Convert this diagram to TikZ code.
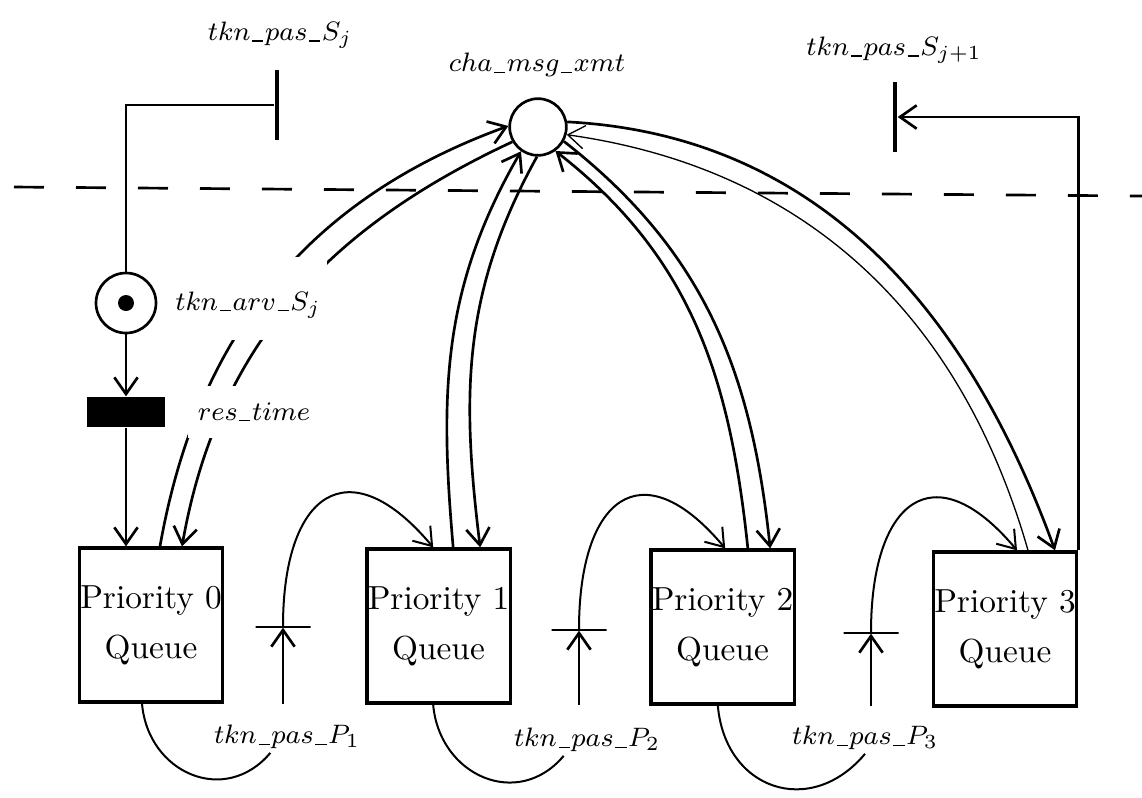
\documentclass[tikz,border=0pt]{standalone}
\usepackage{amsmath}
\usepackage{tikz}
\usetikzlibrary{arrows.meta, calc}
\newcommand{\usc}{\kern0.06em\rule[-0.05em]{0.42em}{0.45pt}\kern0.06em}
\tikzset{
  queue/.style={draw, line width=1pt, minimum width=43pt, minimum height=46.2pt,
                inner sep=0pt, align=center},
  place/.style={circle, draw, line width=0.8pt, minimum size=#1, inner sep=0pt},
  place/.default=18pt,
  token/.style={circle, fill=black, minimum size=4.8pt, inner sep=0pt},
  sbar/.style={fill=black, minimum width=1.2pt, minimum height=21pt, inner sep=0pt},
  pbar/.style={draw, line width=0.4pt, minimum width=16.5pt, minimum height=0pt,
               inner sep=0pt},
  tbox/.style={fill=black, minimum width=23.4pt, minimum height=9pt, inner sep=0pt},
  conn/.style={line width=0.8pt},
  arrow/.style={-{Straight Barb[length=5pt,width=7pt]}, line width=0.8pt},
  parrow/.style={-{Straight Barb[length=5pt,width=7pt]}, line width=0.6pt},
  lbl/.style={font=\footnotesize, inner sep=1pt},
  cut/.style={line width=0.8pt, dash pattern=on 9pt off 9.6pt},
}

\begin{document}
\begin{tikzpicture}[x=30pt, y=30pt]
  \useasboundingbox (0,0) rectangle (11.42,-7.97);

  % Queues
  \node[queue] (q0) at (1.51,-6.25) {Priority 0\\[3pt]Queue};
  \node[queue] (q1) at (4.385,-6.26) {Priority 1\\[3pt]Queue};
  \node[queue] (q2) at (7.225,-6.27) {Priority 2\\[3pt]Queue};
  \node[queue] (q3) at (10.05,-6.29) {Priority 3\\[3pt]Queue};

  % Places and transitions
  \node[place] (parv) at (1.26,-3.03) {};
  \node[token] (tok) at (parv) {};
  \node[tbox] (tres) at (1.26,-4.12) {};
  \node[place=17pt] (cmx) at (5.38,-1.27) {};
  \node[sbar] (tSj) at (2.77,-1.05) {};
  \node[sbar] (tSj1) at (8.95,-1.17) {};
  \node[pbar] (t1) at (2.83,-6.27) {};
  \node[pbar] (t2) at (5.79,-6.30) {};
  \node[pbar] (t3) at (8.71,-6.33) {};

  % Station boundary
  \draw[cut] (0.14,-1.87) -- (11.42,-1.96);

  % Token arrival
  \draw[conn] (parv) |- (tSj);
  \draw[arrow] (parv) -- (tres);
  \draw[arrow] (tres) -- (tres |- q0.north);
  \draw[arrow] (q3.north east) |- (tSj1);

  % Channel arcs
  \draw[arrow] ([xshift=2.7pt]q0.north) to[out=80,in=200] (cmx.178);
  \draw[arrow] (cmx.210) to[out=205,in=80] ([xshift=9.3pt]q0.north);
  \draw[arrow] ([xshift=4.4pt]q1.north) to[out=95,in=240] (cmx.235);
  \draw[arrow] (cmx.268) to[out=241,in=97] ([xshift=12.5pt]q1.north);
  \draw[arrow] ([xshift=7.6pt]q2.north) to[out=96,in=322] (cmx.306);
  \draw[arrow] (cmx.331) to[out=-38,in=96] ([xshift=14.3pt]q2.north);
  \draw[arrow] (cmx.10) to[out=-3,in=110] ([xshift=15pt]q3.north);
  \draw[arrow, line width=0.4pt] ([xshift=6.9pt]q3.north) to[out=106,in=-8]
    (cmx.-15);

  % Token passing between priorities
  \draw[arrow] (t1 |- q0.south) -- (t1);
  \draw[arrow] (t2 |- q1.south) -- (t2);
  \draw[arrow] (t3 |- q2.south) -- (t3);
  \draw[parrow] (t1) to[out=90,in=130,looseness=2] ([xshift=-1.6pt]q1.north);
  \draw[parrow] (t2) to[out=90,in=130,looseness=2] ([xshift=0.8pt]q2.north);
  \draw[parrow] (t3) to[out=90,in=130,looseness=2] ([xshift=3.6pt]q3.north);

  % Labels
  \node[lbl] (lSj) at (2.80,-0.35) {$tkn\usc pas\usc S_j$};
  \node[lbl] (lSj1) at (8.94,-0.50) {$tkn\usc pas\usc S_{j+1}$};
  \node[lbl] (lcmx) at (5.37,-0.65) {$cha\usc msg\usc xmt$};
  \node[lbl, fill=white, anchor=base, text height=15pt, text depth=8pt,
        inner xsep=2pt] (larv) at (2.48,-3.10) {$tkn\usc arv\usc S_j$};
  \node[lbl, fill=white, inner ysep=5pt, inner xsep=3pt] (lres) at (2.54,-4.12)
    {$res\usc time$};
  \node[lbl] (lP1) at (2.87,-7.37) {$tkn\usc pas\usc P_1$};
  \node[lbl] (lP2) at (5.87,-7.40) {$tkn\usc pas\usc P_2$};
  \node[lbl] (lP3) at (8.65,-7.38) {$tkn\usc pas\usc P_3$};

  % Queue to next token place
  \draw[conn, line width=0.6pt] ([xshift=-2.7pt]q0.south) to[out=-85,in=230,
    looseness=1.3] ([xshift=-5pt]lP1.south);
  \draw[conn, line width=0.6pt] ([xshift=-1.6pt]q1.south) to[out=-85,in=230,
    looseness=1.3] ([xshift=-7pt]lP2.south);
  \draw[conn, line width=0.6pt] ([xshift=-1.4pt]q2.south) to[out=-85,in=230,
    looseness=1.4] (lP3.south);

\end{tikzpicture}
\end{document}
